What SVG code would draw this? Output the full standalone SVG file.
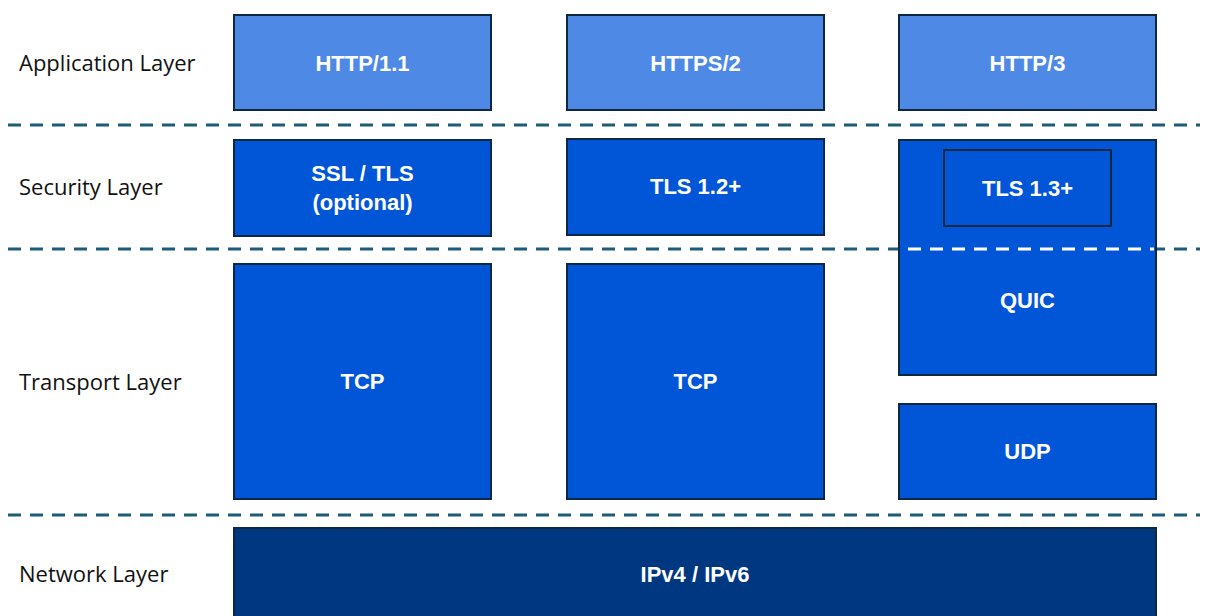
<svg xmlns="http://www.w3.org/2000/svg" width="1206" height="616" viewBox="0 0 1206 616">
<style>
.lbl{font-family:"Open Sans","Liberation Sans",Arial,sans-serif;font-size:22px;fill:#111}
.t{font-family:"Liberation Sans",Arial,sans-serif;font-size:22px;font-weight:bold;fill:#fff;text-anchor:middle;dominant-baseline:central}
.app{fill:#4e89e5;stroke:#0e2841;stroke-width:2}
.mid{fill:#0156d8;stroke:#0e2841;stroke-width:2}
.net{fill:#003781;stroke:#0e2841;stroke-width:2}
.dash{stroke:#1d5b7a;stroke-width:3;stroke-dasharray:13 9;fill:none}
</style>
<rect width="1206" height="616" fill="#fff"/>
<g id="labels">
<text class="lbl" x="19" y="71">Application Layer</text>
<text class="lbl" x="19" y="195">Security Layer</text>
<text class="lbl" x="19" y="390">Transport Layer</text>
<text class="lbl" x="19" y="582">Network Layer</text>
</g>
<g id="separators">
<line class="dash" x1="8" y1="125" x2="1200" y2="125"/>
<line class="dash" x1="8" y1="249" x2="1200" y2="249"/>
<line class="dash" x1="8" y1="515" x2="1200" y2="515"/>
</g>
<g id="http11"><rect class="app" x="234" y="15" width="257" height="95"/><text class="t" x="362.5" y="63">HTTP/1.1</text></g>
<g id="https2"><rect class="app" x="567" y="15" width="257" height="95"/><text class="t" x="695.5" y="63">HTTPS/2</text></g>
<g id="http3"><rect class="app" x="899" y="15" width="257" height="95"/><text class="t" x="1027.5" y="63">HTTP/3</text></g>
<g id="ssltls"><rect class="mid" x="234" y="140" width="257" height="96"/><text class="t" x="362.5" y="173">SSL / TLS</text><text class="t" x="362.5" y="202">(optional)</text></g>
<g id="tls12"><rect class="mid" x="567" y="139" width="257" height="96"/><text class="t" x="695.5" y="186">TLS 1.2+</text></g>
<g id="quic"><rect class="mid" x="899" y="140" width="257" height="235"/>
<line x1="901" y1="249" x2="1154" y2="249" stroke="#fff" stroke-width="3" stroke-dasharray="13 9" stroke-dashoffset="-7"/>
<text class="t" x="1027.5" y="300">QUIC</text></g>
<g id="tls13"><rect class="mid" x="944" y="150" width="167" height="76"/><text class="t" x="1027.5" y="188">TLS 1.3+</text></g>
<g id="tcp1"><rect class="mid" x="234" y="264" width="257" height="235"/><text class="t" x="362.5" y="381">TCP</text></g>
<g id="tcp2"><rect class="mid" x="567" y="264" width="257" height="235"/><text class="t" x="695.5" y="381">TCP</text></g>
<g id="udp"><rect class="mid" x="899" y="404" width="257" height="95"/><text class="t" x="1027.5" y="451">UDP</text></g>
<g id="ip"><rect class="net" x="234" y="528" width="922" height="100"/><text class="t" x="695" y="574">IPv4 / IPv6</text></g>
</svg>
